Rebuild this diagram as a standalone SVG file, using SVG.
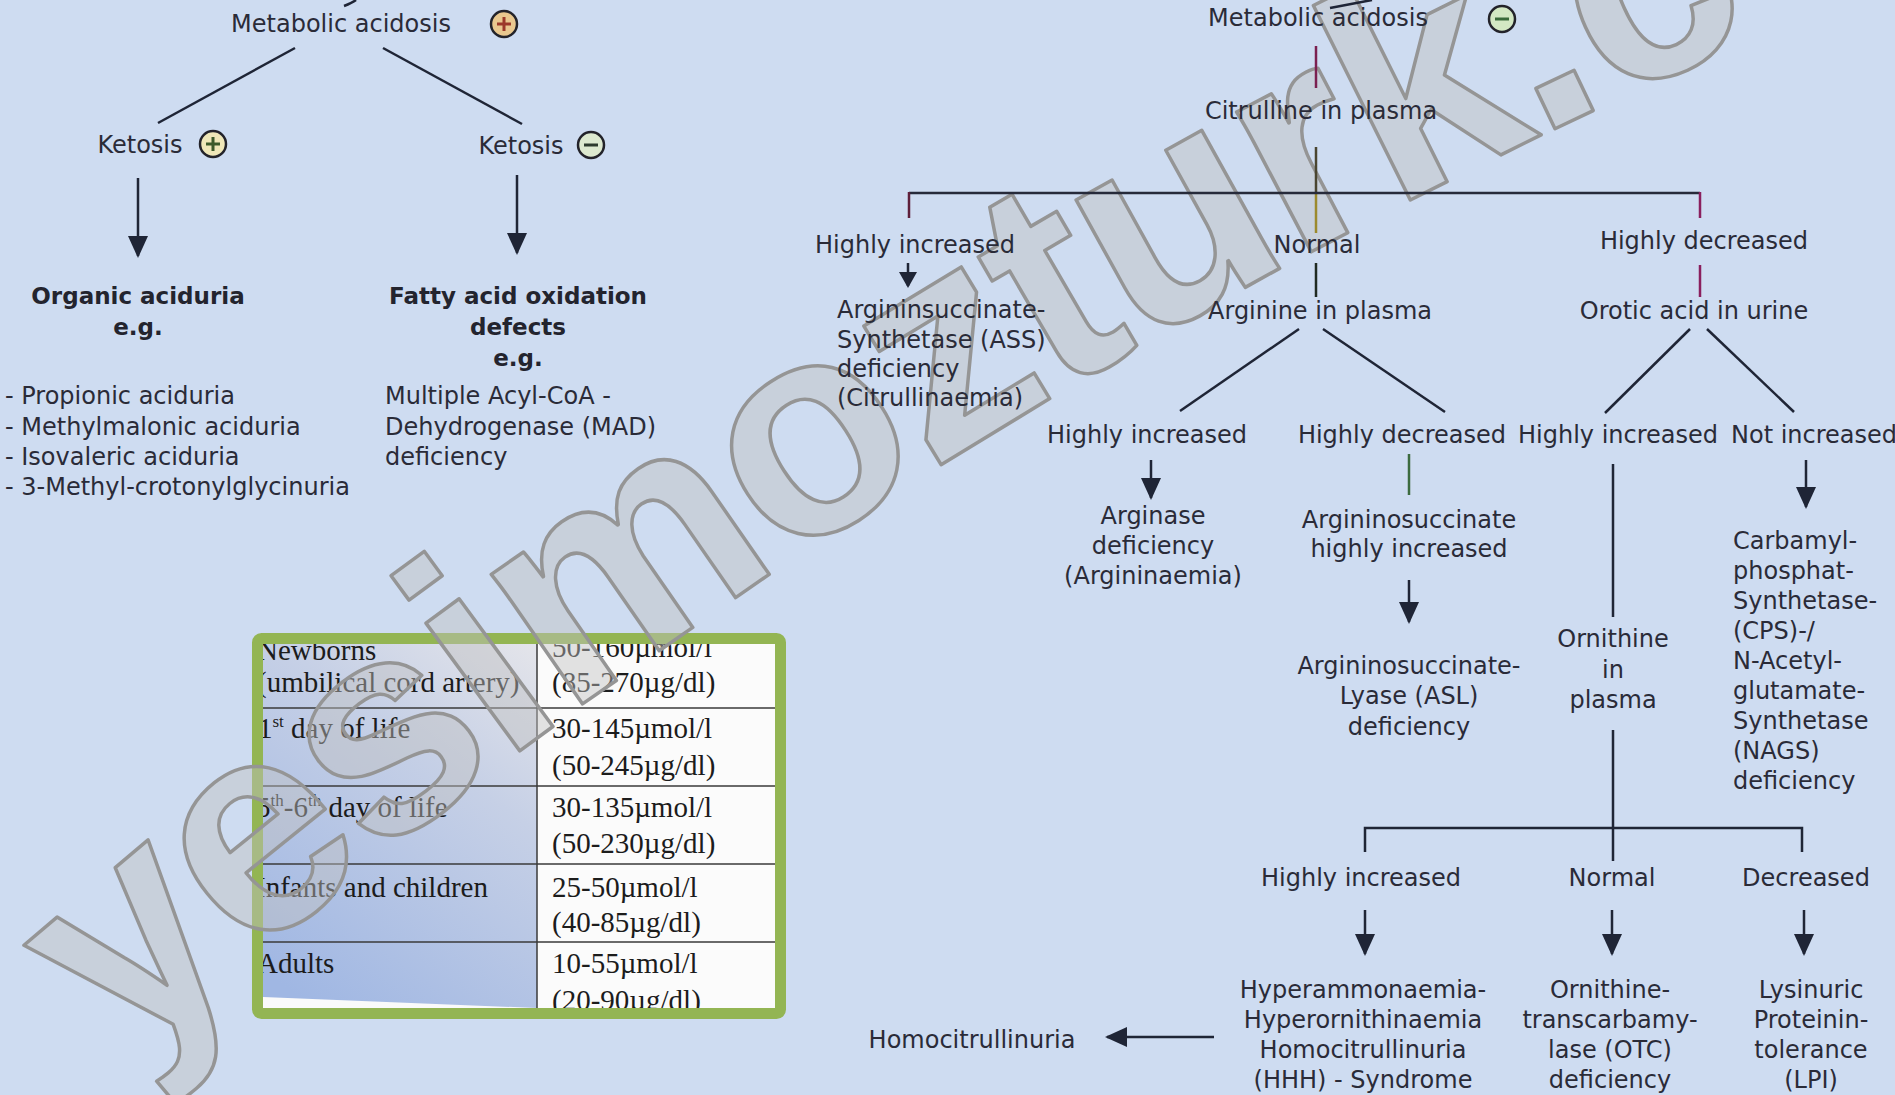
<svg xmlns="http://www.w3.org/2000/svg" width="1895" height="1095" viewBox="0 0 1895 1095">
<defs>
<style>
.t{font-family:"DejaVu Sans","Liberation Sans",sans-serif;font-size:24px;fill:#2a2b38}
.m{text-anchor:middle}
.b{font-weight:bold;font-size:23px;fill:#23242e}
.s{font-family:"Liberation Serif",serif;font-size:29px;fill:#1c1c1c}
.ln{stroke:#1f2536;stroke-width:2.5;fill:none}
.ar{stroke:#1f2536;stroke-width:2.5;fill:none;marker-end:url(#ah)}
.ars{stroke:#1f2536;stroke-width:2.5;fill:none;marker-end:url(#ahs)}
.ic{stroke:#23232a;stroke-width:2.5}
.tl{stroke:#3a3a3a;stroke-width:1.5}
.wm{font-family:"Liberation Sans",sans-serif;font-weight:bold;font-size:300px;letter-spacing:-5px;fill:#c2c2c2;fill-opacity:0.45;stroke:#959595;stroke-width:3.5;stroke-linejoin:round}
</style>
<marker id="ah" viewBox="0 0 22 20" refX="20" refY="10" markerWidth="22" markerHeight="20" markerUnits="userSpaceOnUse" orient="auto"><path d="M0,0 L22,10 L0,20 z" fill="#1f2536"/></marker>
<marker id="ahs" viewBox="0 0 16 18" refX="14" refY="9" markerWidth="16" markerHeight="18" markerUnits="userSpaceOnUse" orient="auto"><path d="M0,0 L16,9 L0,18 z" fill="#1f2536"/></marker>
<linearGradient id="lcol" gradientUnits="userSpaceOnUse" x1="537" y1="650" x2="290" y2="990">
<stop offset="0" stop-color="#e3e4ea"/>
<stop offset="0.35" stop-color="#c6d0e6"/>
<stop offset="1" stop-color="#a0b7e3"/>
</linearGradient>
<clipPath id="tc"><rect x="263" y="644" width="512" height="364"/></clipPath>
<path id="wmp" d="M125,1068 Q868,421 1785,24 L1975,-58"/>
</defs>

<rect x="0" y="0" width="1895" height="1095" fill="#cedcf1"/>

<g id="table">
<rect x="263" y="644" width="274" height="364" fill="url(#lcol)"/>
<rect x="537" y="644" width="238" height="364" fill="#fbfbfb"/>
<polygon points="263,997 537,1008 263,1008" fill="#fafafa"/>
<g clip-path="url(#tc)">
<text class="s" x="257" y="660">Newborns</text>
<text class="s" x="257" y="692">(umbilical cord artery)</text>
<text class="s" x="258" y="738">1<tspan dy="-11" font-size="17">st</tspan><tspan dy="11"> day of life</tspan></text>
<text class="s" x="256" y="817">5<tspan dy="-11" font-size="17">th</tspan><tspan dy="11">-6</tspan><tspan dy="-11" font-size="17">th</tspan><tspan dy="11"> day of life</tspan></text>
<text class="s" x="256" y="897">Infants and children</text>
<text class="s" x="257" y="973">Adults</text>
<text class="s" x="552" y="657">50-160µmol/l</text>
<text class="s" x="552" y="692">(85-270µg/dl)</text>
<text class="s" x="552" y="738">30-145µmol/l</text>
<text class="s" x="552" y="775">(50-245µg/dl)</text>
<text class="s" x="552" y="817">30-135µmol/l</text>
<text class="s" x="552" y="853">(50-230µg/dl)</text>
<text class="s" x="552" y="897">25-50µmol/l</text>
<text class="s" x="552" y="932">(40-85µg/dl)</text>
<text class="s" x="552" y="973">10-55µmol/l</text>
<text class="s" x="552" y="1010">(20-90µg/dl)</text>
</g>
<line class="tl" x1="537" y1="644" x2="537" y2="1008"/>
<line class="tl" x1="263" y1="708" x2="775" y2="708"/>
<line class="tl" x1="263" y1="786" x2="775" y2="786"/>
<line class="tl" x1="263" y1="864" x2="775" y2="864"/>
<line class="tl" x1="263" y1="942" x2="775" y2="942"/>
<rect x="257.5" y="638.5" width="523" height="375" rx="4" fill="none" stroke="#93b553" stroke-width="11"/>
</g>

<g id="watermark">
<text class="wm"><textPath href="#wmp">yesimozturk.c</textPath></text>
</g>

<g id="connectors">
<path class="ln" d="M344,6 Q352,3 356,0"/>
<line class="ln" x1="295" y1="48" x2="158" y2="123"/>
<line class="ln" x1="383" y1="48" x2="522" y2="124"/>
<line class="ar" x1="138" y1="178" x2="138" y2="256"/>
<line class="ar" x1="517" y1="175" x2="517" y2="253"/>

<line class="ln" x1="1330" y1="8" x2="1372" y2="0"/>
<line class="ln" x1="1316" y1="46" x2="1316" y2="88" style="stroke:#7b2050"/>
<line class="ln" x1="1316" y1="147" x2="1316" y2="193" style="stroke:#4a4530"/>
<line class="ln" x1="1316" y1="193" x2="1316" y2="233" style="stroke:#9c8a2c"/>
<line class="ln" x1="909" y1="193" x2="1700" y2="193" style="stroke:#262a3a"/>
<line class="ln" x1="909" y1="192" x2="909" y2="218" style="stroke:#5e1f3a"/>
<line class="ln" x1="1700" y1="192" x2="1700" y2="218" style="stroke:#8a1f5e"/>
<line class="ars" x1="908" y1="263" x2="908" y2="286"/>
<line class="ln" x1="1316" y1="263" x2="1316" y2="297" style="stroke:#1f2a22"/>
<line class="ln" x1="1700" y1="265" x2="1700" y2="297" style="stroke:#8a1f5e"/>
<line class="ln" x1="1299" y1="329" x2="1180" y2="411"/>
<line class="ln" x1="1323" y1="329" x2="1445" y2="412"/>
<line class="ln" x1="1690" y1="329" x2="1605" y2="413"/>
<line class="ln" x1="1707" y1="329" x2="1794" y2="412"/>
<line class="ar" x1="1151" y1="460" x2="1151" y2="498"/>
<line class="ln" x1="1409" y1="454" x2="1409" y2="495" style="stroke:#3c6b3f"/>
<line class="ar" x1="1409" y1="580" x2="1409" y2="622"/>
<line class="ln" x1="1613" y1="464" x2="1613" y2="617"/>
<line class="ar" x1="1806" y1="460" x2="1806" y2="507"/>
<line class="ln" x1="1613" y1="730" x2="1613" y2="861"/>
<path class="ln" d="M1365,852 V828 H1802 V852"/>
<line class="ar" x1="1365" y1="910" x2="1365" y2="954"/>
<line class="ar" x1="1612" y1="910" x2="1612" y2="954"/>
<line class="ar" x1="1804" y1="910" x2="1804" y2="954"/>
<line class="ar" x1="1214" y1="1037" x2="1107" y2="1037"/>
</g>

<g id="n-ma1">
<text class="t m" x="341" y="32">Metabolic acidosis</text>
<circle class="ic" cx="504" cy="24" r="13" fill="#e9c88f"/>
<path d="M497,24 H511 M504,17 V31" stroke="#9c3a2a" stroke-width="3"/>
</g>
<g id="n-ket1">
<text class="t m" x="140" y="153">Ketosis</text>
<circle class="ic" cx="213" cy="144" r="13" fill="#efe7b8"/>
<path d="M206,144 H220 M213,137 V151" stroke="#3d5a2a" stroke-width="3"/>
</g>
<g id="n-ket2">
<text class="t m" x="521" y="154">Ketosis</text>
<circle class="ic" cx="591" cy="145" r="13" fill="#dde9cf"/>
<path d="M584,145 H598" stroke="#2d3a2d" stroke-width="3"/>
</g>
<g id="n-oa">
<text class="t m b" x="138" y="304">Organic aciduria</text>
<text class="t m b" x="138" y="335">e.g.</text>
</g>
<g id="n-oalist">
<text class="t" x="5" y="404">- Propionic aciduria</text>
<text class="t" x="5" y="435">- Methylmalonic aciduria</text>
<text class="t" x="5" y="465">- Isovaleric aciduria</text>
<text class="t" x="5" y="495">- 3-Methyl-crotonylglycinuria</text>
</g>
<g id="n-fao">
<text class="t m b" x="518" y="304">Fatty acid oxidation</text>
<text class="t m b" x="518" y="335">defects</text>
<text class="t m b" x="518" y="366">e.g.</text>
</g>
<g id="n-mad">
<text class="t" x="385" y="404">Multiple Acyl-CoA -</text>
<text class="t" x="385" y="435">Dehydrogenase (MAD)</text>
<text class="t" x="385" y="465">deficiency</text>
</g>

<g id="n-ma2">
<text class="t m" x="1318" y="26">Metabolic acidosis</text>
<circle class="ic" cx="1502" cy="19" r="13" fill="#d3e8c3"/>
<path d="M1495,19 H1509" stroke="#3a6a3a" stroke-width="3"/>
</g>
<g id="n-cit"><text class="t m" x="1321" y="119">Citrulline in plasma</text></g>
<g id="n-hi1"><text class="t m" x="915" y="253">Highly increased</text></g>
<g id="n-ass">
<text class="t" x="837" y="318">Argininsuccinate-</text>
<text class="t" x="837" y="348">Synthetase (ASS)</text>
<text class="t" x="837" y="377">deficiency</text>
<text class="t" x="837" y="406">(Citrullinaemia)</text>
</g>
<g id="n-norm1"><text class="t m" x="1317" y="253">Normal</text></g>
<g id="n-hd1"><text class="t m" x="1704" y="249">Highly decreased</text></g>
<g id="n-arg"><text class="t m" x="1320" y="319">Arginine in plasma</text></g>
<g id="n-oro"><text class="t m" x="1694" y="319">Orotic acid in urine</text></g>
<g id="n-hi2"><text class="t m" x="1147" y="443">Highly increased</text></g>
<g id="n-hd2"><text class="t m" x="1402" y="443">Highly decreased</text></g>
<g id="n-hi3"><text class="t m" x="1618" y="443">Highly increased</text></g>
<g id="n-ni"><text class="t" x="1731" y="443">Not increased</text></g>
<g id="n-argase">
<text class="t m" x="1153" y="524">Arginase</text>
<text class="t m" x="1153" y="554">deficiency</text>
<text class="t m" x="1153" y="584">(Argininaemia)</text>
</g>
<g id="n-asa">
<text class="t m" x="1409" y="528">Argininosuccinate</text>
<text class="t m" x="1409" y="557">highly increased</text>
</g>
<g id="n-asl">
<text class="t m" x="1409" y="674">Argininosuccinate-</text>
<text class="t m" x="1409" y="704">Lyase (ASL)</text>
<text class="t m" x="1409" y="735">deficiency</text>
</g>
<g id="n-orn">
<text class="t m" x="1613" y="647">Ornithine</text>
<text class="t m" x="1613" y="678">in</text>
<text class="t m" x="1613" y="708">plasma</text>
</g>
<g id="n-cps">
<text class="t" x="1733" y="549">Carbamyl-</text>
<text class="t" x="1733" y="579">phosphat-</text>
<text class="t" x="1733" y="609">Synthetase-</text>
<text class="t" x="1733" y="639">(CPS)-/</text>
<text class="t" x="1733" y="669">N-Acetyl-</text>
<text class="t" x="1733" y="699">glutamate-</text>
<text class="t" x="1733" y="729">Synthetase</text>
<text class="t" x="1733" y="759">(NAGS)</text>
<text class="t" x="1733" y="789">deficiency</text>
</g>
<g id="n-hi4"><text class="t m" x="1361" y="886">Highly increased</text></g>
<g id="n-norm2"><text class="t m" x="1612" y="886">Normal</text></g>
<g id="n-dec"><text class="t m" x="1806" y="886">Decreased</text></g>
<g id="n-hhh">
<text class="t m" x="1363" y="998">Hyperammonaemia-</text>
<text class="t m" x="1363" y="1028">Hyperornithinaemia</text>
<text class="t m" x="1363" y="1058">Homocitrullinuria</text>
<text class="t m" x="1363" y="1088">(HHH) - Syndrome</text>
</g>
<g id="n-otc">
<text class="t m" x="1610" y="998">Ornithine-</text>
<text class="t m" x="1610" y="1028">transcarbamy-</text>
<text class="t m" x="1610" y="1058">lase (OTC)</text>
<text class="t m" x="1610" y="1088">deficiency</text>
</g>
<g id="n-lpi">
<text class="t m" x="1811" y="998">Lysinuric</text>
<text class="t m" x="1811" y="1028">Proteinin-</text>
<text class="t m" x="1811" y="1058">tolerance</text>
<text class="t m" x="1811" y="1088">(LPI)</text>
</g>
<g id="n-homo"><text class="t m" x="972" y="1048">Homocitrullinuria</text></g>
</svg>
